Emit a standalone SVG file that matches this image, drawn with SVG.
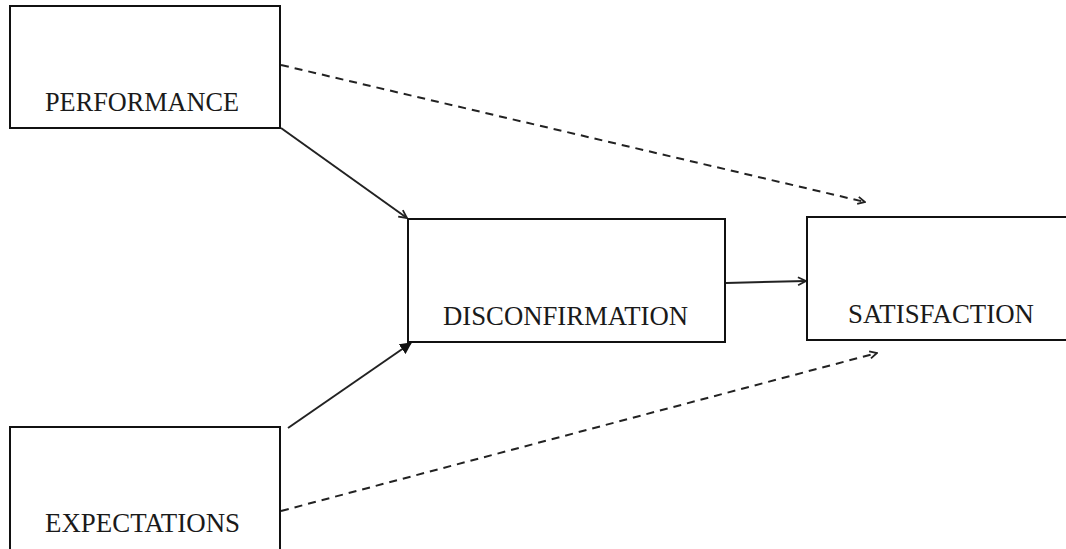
<svg xmlns="http://www.w3.org/2000/svg" width="1066" height="549" viewBox="0 0 1066 549">
  <style>
    .box { fill: #ffffff; stroke: #111111; stroke-width: 2; }
    .label { font-family: "Liberation Serif", "Times New Roman", serif; font-size: 27px; fill: #1a1a1a; }
    .link { fill: none; stroke: #222222; stroke-width: 2; }
    .dash { stroke-dasharray: 8 6; }
  </style>
  <defs>
    <marker id="open" viewBox="0 0 10 10" refX="9" refY="5" markerWidth="9" markerHeight="9" markerUnits="userSpaceOnUse" orient="auto">
      <path d="M1,1 L9,5 L1,9" fill="none" stroke="#222222" stroke-width="2"/>
    </marker>
    <marker id="openLarge" viewBox="0 0 10 10" refX="9" refY="5" markerWidth="10" markerHeight="10" markerUnits="userSpaceOnUse" orient="auto">
      <path d="M1,1 L9,5 L1,9" fill="none" stroke="#222222" stroke-width="1.8"/>
    </marker>
    <marker id="solid" viewBox="0 0 10 10" refX="9" refY="5" markerWidth="12" markerHeight="12" markerUnits="userSpaceOnUse" orient="auto">
      <path d="M0,0 L10,5 L0,10 Z" fill="#111111"/>
    </marker>
  </defs>

  <g id="connectors">
    <line class="link dash" x1="281" y1="65" x2="865" y2="202" marker-end="url(#open)"/>
    <line class="link dash" x1="281" y1="511" x2="877" y2="353" marker-end="url(#open)"/>
    <line class="link" x1="281" y1="128" x2="407" y2="218" marker-end="url(#openLarge)"/>
    <line class="link" x1="288" y1="428" x2="411" y2="343" marker-end="url(#solid)"/>
    <line class="link" x1="726" y1="283" x2="806" y2="281" marker-end="url(#openLarge)"/>
  </g>

  <g id="performance">
    <rect class="box" x="10" y="6" width="270" height="122"/>
    <text class="label" x="45" y="111" textLength="194" lengthAdjust="spacingAndGlyphs">PERFORMANCE</text>
  </g>

  <g id="expectations">
    <rect class="box" x="10" y="427" width="270" height="140"/>
    <text class="label" x="45" y="532" textLength="195" lengthAdjust="spacingAndGlyphs">EXPECTATIONS</text>
  </g>

  <g id="disconfirmation">
    <rect class="box" x="408" y="219" width="317" height="123"/>
    <text class="label" x="443" y="325" textLength="245" lengthAdjust="spacingAndGlyphs">DISCONFIRMATION</text>
  </g>

  <g id="satisfaction">
    <rect class="box" x="807" y="217" width="280" height="123"/>
    <text class="label" x="848" y="323" textLength="186" lengthAdjust="spacingAndGlyphs">SATISFACTION</text>
  </g>
</svg>
